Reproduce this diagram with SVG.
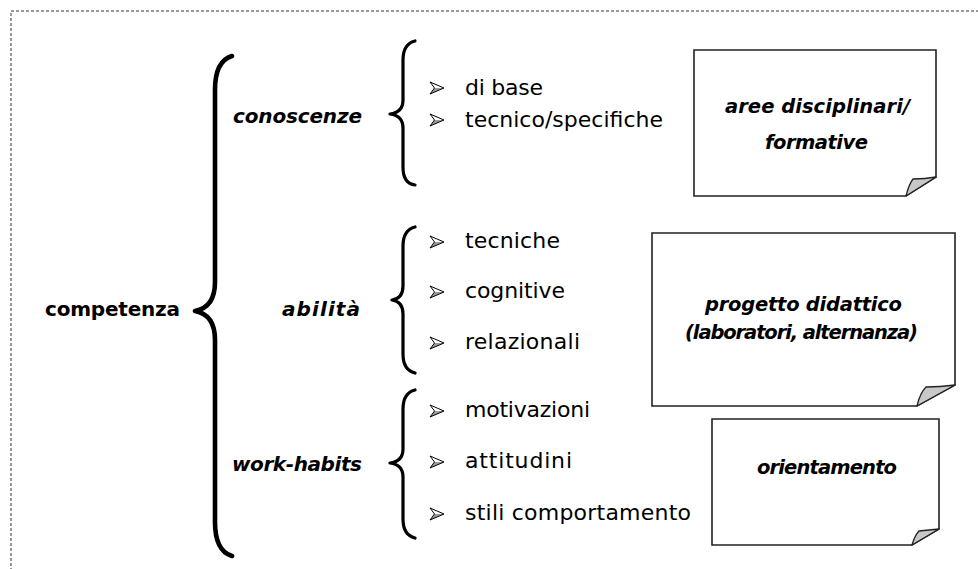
<svg xmlns="http://www.w3.org/2000/svg" width="978" height="569" viewBox="0 0 978 569">
  <style>
    .frame { fill: none; stroke: #333; stroke-width: 1; stroke-dasharray: 3 2; }
    .brace-big { fill: none; stroke: #000; stroke-width: 4.6; stroke-linecap: round; stroke-linejoin: round; }
    .brace { fill: none; stroke: #000; stroke-width: 3.2; stroke-linecap: round; stroke-linejoin: round; }
    .label { font-family: "DejaVu Sans", sans-serif; font-size: 20px; font-weight: bold; font-style: italic; fill: #000; }
    .root { font-family: "DejaVu Sans", sans-serif; font-size: 20px; font-weight: bold; fill: #000; }
    .item { font-family: "DejaVu Sans", sans-serif; font-size: 22px; fill: #000; }
    .note { font-family: "DejaVu Sans", sans-serif; font-size: 19.5px; font-weight: bold; font-style: italic; fill: #000; }
    .sheet { fill: #fff; stroke: #222; stroke-width: 1.6; stroke-linejoin: miter; }
    .curl { fill: #c8c8c8; stroke: #222; stroke-width: 1.3; stroke-linejoin: round; }
  </style>
  <defs>
    <!-- 3D arrowhead bullet, centred vertically on y=0 -->
    <g id="bullet">
      <path d="M0,-6 L14,0 L4.5,0 Z" fill="#fff"/>
      <path d="M4.5,0 L14,0 L0,6 Z" fill="#9a9a9a"/>
      <path d="M0,-6 L14,0 L0,6 L4.5,0 Z" fill="none" stroke="#000" stroke-width="1" stroke-linejoin="miter"/>
    </g>
  </defs>

  <rect class="frame" x="11" y="11" width="1000" height="600"/>

  <!-- braces -->
  <g id="connectors">
    <path class="brace-big" d="M232,56 C222,59 215,68 215,90 L215,282 C215,301 206,309 195,311 C206,313 215,321 215,340 L215,522 C215,544 222,553 232,556"/>
    <path class="brace" d="M415,41 C407,43 403,49 403,60 L403,100 C403,109 398,113 390,114 C398,115 403,119 403,128 L403,167 C403,178 407,184 415,185"/>
    <path class="brace" d="M415,227 C407,229 403,235 403,246 L403,286 C403,295 399,299 392,300 C399,301 403,305 403,314 L403,354 C403,365 407,371 415,373"/>
    <path class="brace" d="M415,390 C407,392 403,398 403,409 L403,449 C403,458 398,462 390,463 C398,464 403,468 403,477 L403,519 C403,530 407,536 415,538"/>
  </g>

  <g id="competenza">
    <text class="root" x="45" y="316" textLength="135">competenza</text>
  </g>

  <g id="conoscenze">
    <text class="label" x="233" y="123" textLength="129">conoscenze</text>
  </g>
  <g id="abilita">
    <text class="label" x="282" y="316" textLength="78">abilità</text>
  </g>
  <g id="work-habits">
    <text class="label" x="232" y="471" textLength="130">work-habits</text>
  </g>

  <g id="list-conoscenze">
    <use href="#bullet" transform="translate(430,88)"/>
    <text class="item" x="465" y="95" textLength="78">di base</text>
    <use href="#bullet" transform="translate(430,120)"/>
    <text class="item" x="465" y="127" textLength="198">tecnico/specifiche</text>
  </g>

  <g id="list-abilita">
    <use href="#bullet" transform="translate(430,242)"/>
    <text class="item" x="465" y="248" textLength="95">tecniche</text>
    <use href="#bullet" transform="translate(430,292)"/>
    <text class="item" x="465" y="298" textLength="100">cognitive</text>
    <use href="#bullet" transform="translate(430,343)"/>
    <text class="item" x="465" y="349" textLength="115">relazionali</text>
  </g>

  <g id="list-work-habits">
    <use href="#bullet" transform="translate(430,411)"/>
    <text class="item" x="465" y="417" textLength="125">motivazioni</text>
    <use href="#bullet" transform="translate(430,462)"/>
    <text class="item" x="465" y="468" textLength="107">attitudini</text>
    <use href="#bullet" transform="translate(430,514)"/>
    <text class="item" x="465" y="520" textLength="226">stili comportamento</text>
  </g>

  <!-- note sheets with a curled corner -->
  <g id="aree">
    <path class="sheet" d="M694,50 H936 V177 L906,196 H694 Z"/>
    <path class="curl" d="M906,196 Q909,184 913,179 Q925,179 936,177 Z"/>
    <text class="note" x="725" y="113" textLength="185">aree disciplinari/</text>
    <text class="note" x="765" y="149" textLength="103">formative</text>
  </g>

  <g id="progetto">
    <path class="sheet" d="M652,233 H955 V385 L917,406 H652 Z"/>
    <path class="curl" d="M917,406 Q920,393 926,387 Q940,387 955,385 Z"/>
    <text class="note" x="705" y="311" textLength="197">progetto didattico</text>
    <text class="note" x="685" y="339" textLength="233">(laboratori, alternanza)</text>
  </g>

  <g id="orientamento">
    <path class="sheet" d="M712,419 H939 V529 L912,545 H712 Z"/>
    <path class="curl" d="M912,545 Q915,535 919,531 Q929,530 939,529 Z"/>
    <text class="note" x="757" y="474" textLength="140">orientamento</text>
  </g>
</svg>
